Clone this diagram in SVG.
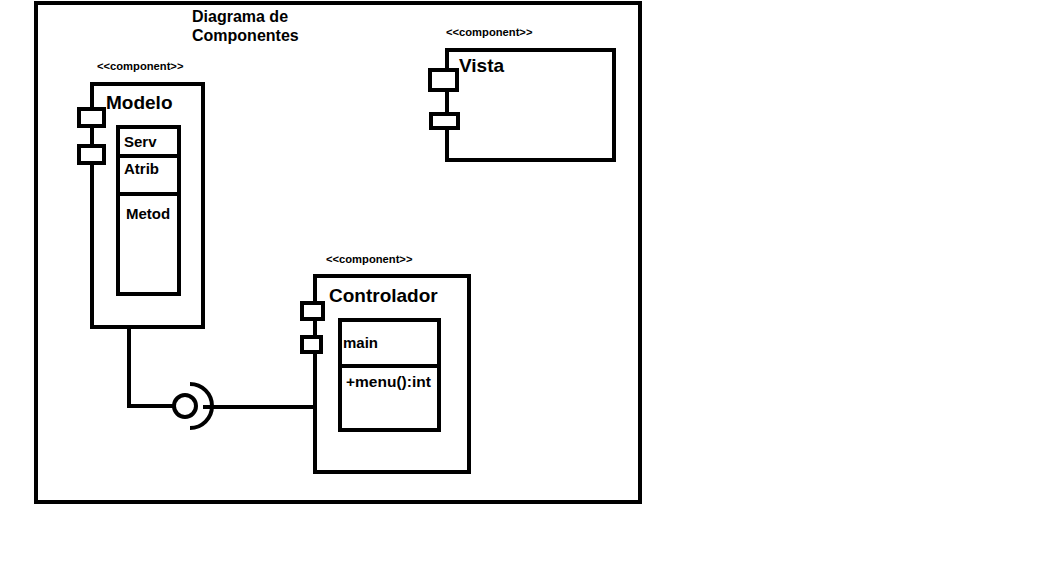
<svg xmlns="http://www.w3.org/2000/svg" width="1058" height="583" viewBox="0 0 1058 583">
<style>
.box{fill:none;stroke:#000;stroke-width:4}
.port{fill:#fff;stroke:#000;stroke-width:4}
.t{font-family:"Liberation Sans",Arial,sans-serif;font-weight:bold;fill:#000}
.st{font-size:11.2px}
.nm{font-size:19px}
.at{font-size:15px}
.wire{fill:none;stroke:#000;stroke-width:4}
</style>
<rect width="1058" height="583" fill="#fff"/>
<rect id="frame" class="box" x="36" y="3" width="604" height="499"/>
<g id="title">
<text class="t" x="192" y="22" font-size="16">Diagrama de</text>
<text class="t" x="192" y="41" font-size="16">Componentes</text>
</g>
<g id="connectors">
<polyline class="wire" points="129,329 129,406 173,406"/>
<circle class="wire" cx="185" cy="406" r="11"/>
<path class="wire" d="M 190,384 A 22 22 0 0 1 190,428"/>
<line class="wire" x1="203" y1="407" x2="316" y2="407"/>
</g>
<g id="modelo">
<text class="t st" x="97" y="70">&lt;&lt;component&gt;&gt;</text>
<rect class="box" x="92" y="84" width="111" height="243"/>
<rect class="port" x="79" y="109" width="25" height="17"/>
<rect class="port" x="79" y="146" width="25" height="17"/>
<text class="t nm" x="106" y="109">Modelo</text>
<rect class="box" x="118" y="127" width="61" height="167"/>
<line class="box" x1="118" y1="156" x2="179" y2="156"/>
<line class="box" x1="118" y1="194" x2="179" y2="194"/>
<text class="t at" x="124" y="147">Serv</text>
<text class="t at" x="124" y="174">Atrib</text>
<text class="t at" x="126" y="219">Metod</text>
</g>
<g id="vista">
<text class="t st" x="446" y="36">&lt;&lt;component&gt;&gt;</text>
<rect class="box" x="447" y="50" width="167" height="110"/>
<rect class="port" x="430" y="70" width="27" height="20"/>
<rect class="port" x="431" y="114" width="27" height="14"/>
<text class="t nm" x="459" y="72">Vista</text>
</g>
<g id="controlador">
<text class="t st" x="326" y="263">&lt;&lt;component&gt;&gt;</text>
<rect class="box" x="315" y="276" width="154" height="196"/>
<rect class="port" x="302" y="303" width="21" height="16"/>
<rect class="port" x="302" y="337" width="19" height="15"/>
<text class="t nm" x="329" y="302">Controlador</text>
<rect class="box" x="340" y="320" width="99" height="110"/>
<line class="box" x1="340" y1="366" x2="439" y2="366"/>
<text class="t at" x="343" y="348">main</text>
<text class="t" x="346" y="387" font-size="15.5">+menu():int</text>
</g>
</svg>
